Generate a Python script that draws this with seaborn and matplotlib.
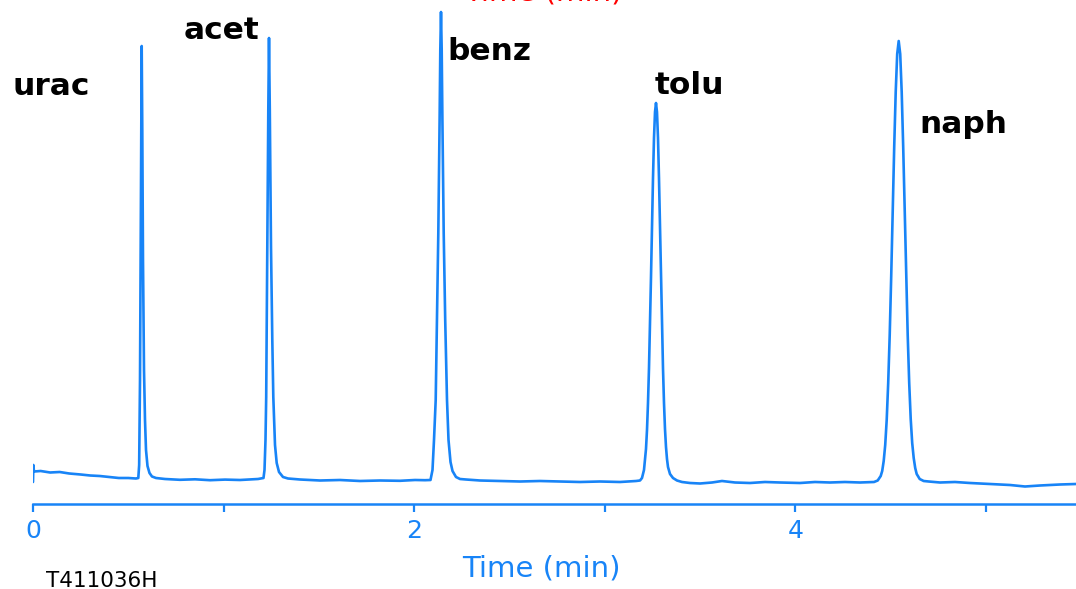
import matplotlib
matplotlib.use("Agg")
import matplotlib.pyplot as plt
import seaborn as sns
import pandas as pd

# Chromatogram trace: retention time (min) and detector signal (mAU)
time_min = [
    # start / baseline before uracil
    0.000, 0.002, 0.005, 0.040, 0.090, 0.140, 0.190, 0.250, 0.300, 0.350,
    0.400, 0.450, 0.500, 0.540, 0.5525,
    # uracil
    0.5570, 0.5614, 0.5645, 0.5677, 0.5703, 0.5734, 0.5771, 0.5824, 0.5876,
    0.5929, 0.6007, 0.6112, 0.6243, 0.6453,
    # baseline
    0.6925, 0.7712, 0.8500, 0.9287, 1.0073, 1.0860, 1.1385, 1.1805, 1.2093,
    # acetophenone
    1.2146, 1.2198, 1.2235, 1.2293, 1.2345, 1.2382, 1.2424, 1.2487, 1.2555,
    1.2608, 1.2697, 1.2786, 1.2907, 1.3116, 1.3379,
    # baseline
    1.4008, 1.5058, 1.6107, 1.7156, 1.8206, 1.9255, 2.0042, 2.0567, 2.0855,
    # benzene
    2.0960, 2.1039, 2.1128, 2.1196, 2.1265, 2.1333, 2.1369, 2.1406, 2.1443,
    2.1480, 2.1548, 2.1627, 2.1721, 2.1800, 2.1905, 2.2010, 2.2193, 2.2403,
    2.2718,
    # baseline
    2.3452, 2.4502, 2.5551, 2.6600, 2.7649, 2.8699, 2.9748, 3.0797, 3.1637,
    3.1847,
    # toluene
    3.1951, 3.2056, 3.2161, 3.2214, 3.2266, 3.2319, 3.2371, 3.2424, 3.2476,
    3.2529, 3.2581, 3.2634, 3.2686, 3.2738, 3.2791, 3.2843, 3.2896, 3.2948,
    3.3001, 3.3053, 3.3106, 3.3158, 3.3211, 3.3263, 3.3316, 3.3421, 3.3578,
    3.3788, 3.4050,
    # baseline
    3.4470, 3.4995, 3.5624, 3.6149, 3.6831, 3.7618, 3.8405, 3.9192, 4.0241,
    4.1028, 4.1815, 4.2602, 4.3390, 4.4124,
    # naphthalene
    4.4318, 4.4476, 4.4554, 4.4633, 4.4712, 4.4790, 4.4869, 4.4948, 4.5027,
    4.5105, 4.5184, 4.5263, 4.5341, 4.5420, 4.5499, 4.5577, 4.5656, 4.5735,
    4.5813, 4.5892, 4.5971, 4.6050, 4.6128, 4.6207, 4.6286, 4.6364, 4.6522,
    4.6731, 4.6994,
    # baseline to end of run
    4.7587, 4.8374, 4.9161, 5.0210, 5.1259, 5.2046, 5.2833, 5.3882, 5.4722,
]

signal_mau = [
    0.00, 1.70, 1.05, 1.10, 0.95, 1.00, 0.85, 0.75, 0.65, 0.60,
    0.50, 0.40, 0.40, 0.35, 0.40,
    1.70, 10.2, 22.2, 35.2, 43.6, 35.2, 22.2, 11.2, 6.2,
    3.2, 1.6, 0.9, 0.55, 0.40,
    0.30, 0.22, 0.27, 0.18, 0.24, 0.20, 0.26, 0.30, 0.40,
    1.2, 4.2, 8.5, 23.5, 37.2, 44.4, 37.2, 23.5, 14.2,
    8.5, 3.7, 1.9, 1.0, 0.5, 0.35,
    0.25, 0.15, 0.20, 0.10, 0.15, 0.12, 0.20, 0.18, 0.20,
    1.2, 4.2, 8.2, 16.2, 24.9, 36.2, 43.2, 47.0, 43.2,
    36.2, 24.9, 16.2, 8.2, 4.2, 2.0, 1.1, 0.5, 0.3,
    0.25,
    0.15, 0.10, 0.05, 0.10, 0.05, 0.00, 0.05, 0.00, 0.10,
    0.15,
    0.40, 1.2, 3.3, 5.2, 7.9, 11.4, 15.7, 20.5, 25.6,
    30.4, 34.4, 37.0, 37.9, 37.0, 34.4, 30.4, 25.6, 20.5,
    15.7, 11.4, 7.9, 5.3, 3.5, 2.3, 1.5, 0.8, 0.4,
    0.15, 0.00,
    -0.10, -0.15, -0.05, 0.10, -0.05, -0.10, 0.00, -0.05, -0.10,
    0.00, -0.05, 0.00, -0.05, 0.00,
    0.15, 0.6, 1.1, 2.1, 3.7, 6.2, 9.9, 14.7, 20.6,
    27.1, 33.5, 39.0, 42.8, 44.1, 42.8, 39.0, 33.5, 27.1,
    20.6, 14.7, 9.9, 6.3, 3.9, 2.4, 1.4, 0.8, 0.3,
    0.10, 0.05,
    -0.05, 0.00, -0.10, -0.20, -0.30, -0.45, -0.35, -0.25, -0.20,
]

# Peak names and where their labels sit (min, mAU)
peak_names = ["urac", "acet", "benz", "tolu", "naph"]
label_x = [-0.110, 0.790, 2.172, 3.264, 4.650]
label_y = [38.7, 44.3, 42.2, 38.8, 34.9]

tick_values = [0, 1, 2, 3, 4, 5]
tick_labels = ["0", "", "2", "", "4", ""]
sample_id = "T411036H"
axis_title = "Time (min)"

BLUE = "#1884F7"

sns.set_style("white")
plt.rcParams["font.family"] = ["DejaVu Sans"]

fig = plt.figure(figsize=(10.76, 5.89), dpi=100)
ax = fig.add_axes([33 / 1076, 85 / 589, 1043 / 1076, 504 / 589])

trace = pd.DataFrame({"time": time_min, "signal": signal_mau})
sns.lineplot(data=trace, x="time", y="signal", sort=False, estimator=None,
             color=BLUE, linewidth=1.9, ax=ax)

ax.set_xlim(0, 5.4722)
ax.set_ylim(-2.2, 48.2)

for name, lx, ly in zip(peak_names, label_x, label_y):
    ax.text(lx, ly, name, fontsize=22.5, fontweight="bold", color="black",
            ha="left", va="baseline", clip_on=False)

sns.despine(ax=ax, left=True, top=True, right=True)
ax.spines["bottom"].set_color(BLUE)
ax.spines["bottom"].set_linewidth(1.8)
ax.set_yticks([])
ax.set_xticks(tick_values)
ax.set_xticklabels(tick_labels)
ax.set_xticks([0], minor=True)
ax.tick_params(axis="x", which="major", direction="out", length=5.8,
               width=1.6, color=BLUE, labelcolor=BLUE, labelsize=18, pad=5,
               bottom=True)
ax.tick_params(axis="x", which="minor", direction="out", length=10,
               width=1.6, color=BLUE, bottom=True)
ax.set_xlabel("")
ax.set_ylabel("")

fig.text(541 / 1076, 1 - 576 / 589, axis_title, color=BLUE, fontsize=21,
         ha="center", va="baseline")
fig.text(543 / 1076, 1.0, axis_title, color="red", fontsize=21,
         ha="center", va="baseline")
fig.text(46 / 1076, 1 - 587 / 589, sample_id, color="black", fontsize=15.5,
         ha="left", va="baseline")

fig.savefig("out.png", dpi=100)
